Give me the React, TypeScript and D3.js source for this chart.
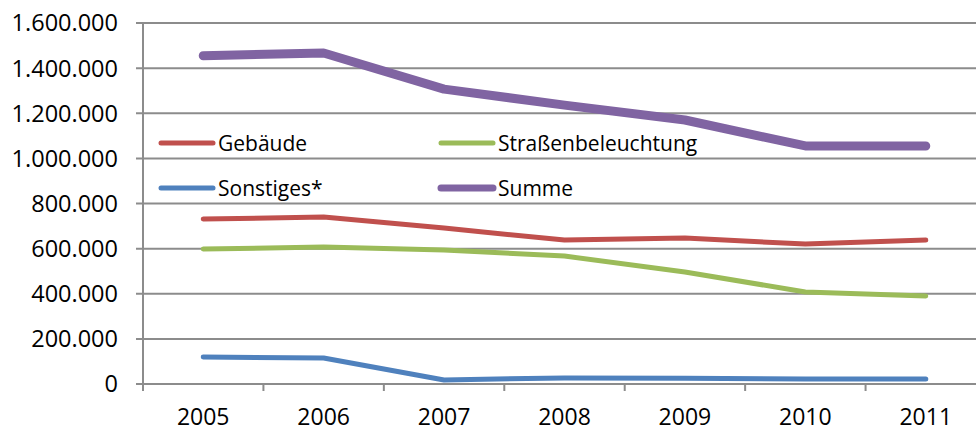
import * as d3 from 'd3';

const years = ['2005', '2006', '2007', '2008', '2009', '2010', '2011'];
const gebaeude = [731000, 740000, 691000, 638000, 647000, 620000, 638000];
const strassen = [598000, 607000, 594000, 567000, 496000, 408000, 390000];
const sonstiges = [120000, 115000, 18000, 27000, 25000, 22000, 22000];
const summe = [1455000, 1467000, 1307000, 1236000, 1170000, 1055000, 1055000];
const yTicks = [0, 200000, 400000, 600000, 800000, 1000000, 1200000, 1400000, 1600000];

const series = [
    { name: 'Gebäude', values: gebaeude, color: '#C0504D', width: 5 },
    { name: 'Straßenbeleuchtung', values: strassen, color: '#9BBB59', width: 5 },
    { name: 'Sonstiges*', values: sonstiges, color: '#4F81BD', width: 5 },
    { name: 'Summe', values: summe, color: '#8064A2', width: 9 },
];

const width = 976;
const height = 431;
const margin = { top: 23, left: 143, bottom: 47 };
const plotRight = 986;
const font = '"Open Sans", "Liberation Sans", sans-serif';

export default function App() {
    const x = d3.scaleBand<string>()
        .domain(years)
        .range([margin.left, plotRight]);

    const y = d3.scaleLinear()
        .domain([0, 1600000])
        .range([height - margin.bottom, margin.top]);

    const line = d3.line<number>()
        .x((_, i) => x(years[i])! + x.bandwidth() / 2)
        .y(d => y(d));

    const fmt = (v: number) => v === 0 ? '0' : d3.format(',')(v).replace(/,/g, '.');

    // legend sits in two columns, two rows
    const legendCols = [161, 441];
    const legendRows = [143, 188];

    const grid = '#8C8C8C';

    return (
        <svg width={width} height={height} style={{ position: 'absolute', left: 0, top: 0, background: '#fff' }}>
            {/* horizontal grid lines */}
            {yTicks.map(t => (
                <g key={t}>
                    <line x1={margin.left - 7} x2={plotRight} y1={y(t)} y2={y(t)} stroke={grid} strokeWidth={2} />
                    <text x={118} y={y(t)} dy="0.36em" textAnchor="end" fontFamily={font} fontSize={23.5} fill="#000">
                        {fmt(t)}
                    </text>
                </g>
            ))}
            {/* y axis */}
            <line x1={margin.left} x2={margin.left} y1={y(1600000)} y2={y(0)} stroke={grid} strokeWidth={2} />
            {/* x tick marks */}
            {years.map(yr => (
                <line key={yr} x1={x(yr)!} x2={x(yr)!} y1={y(0)} y2={y(0) + 7} stroke={grid} strokeWidth={2} />
            ))}
            {years.map(yr => (
                <text key={'l' + yr} x={x(yr)! + x.bandwidth() / 2} y={425} textAnchor="middle" fontFamily={font} fontSize={23} fill="#000">
                    {yr}
                </text>
            ))}
            {/* series lines */}
            {series.map(s => (
                <path key={s.name} d={line(s.values)!} fill="none" stroke={s.color} strokeWidth={s.width}
                    strokeLinecap="round" strokeLinejoin="round" />
            ))}
            {/* legend */}
            {series.map((s, i) => {
                const lx = legendCols[i % 2];
                const ly = legendRows[Math.floor(i / 2)];
                return (
                    <g key={'lg' + s.name}>
                        <line x1={lx} x2={lx + 52} y1={ly} y2={ly} stroke={s.color} strokeWidth={s.width === 9 ? 7 : 5} strokeLinecap="round" />
                        <text x={lx + 57} y={ly} dy="0.36em" fontFamily={font} fontSize={21} fill="#000">{s.name}</text>
                    </g>
                );
            })}
        </svg>
    );
}
